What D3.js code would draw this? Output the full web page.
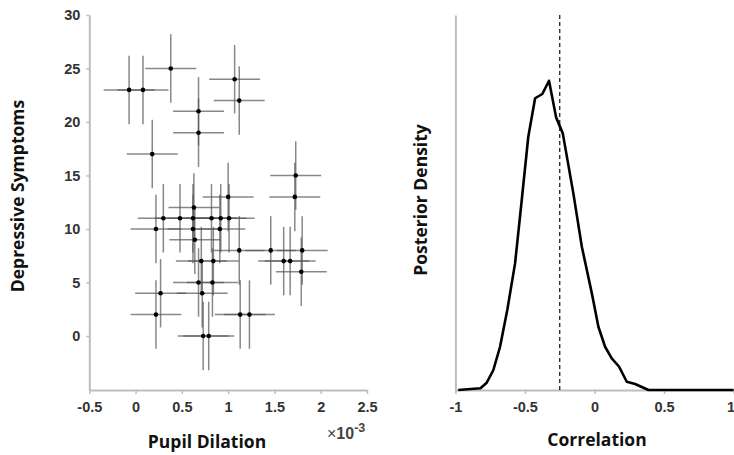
<!DOCTYPE html>
<html>
<head>
<meta charset="utf-8">
<script src="https://cdn.jsdelivr.net/npm/d3@7"></script>
<style>
  body { margin: 0; background: #fff; }
  svg { display: block; }
  .tick text { font-family: "Liberation Sans", Arial, sans-serif; font-weight: bold; font-size: 14.5px; fill: #333; }
  .ttl { font-family: "Open Sans", Lato, sans-serif; font-weight: bold; font-size: 17.5px; fill: #111; }
</style>
</head>
<body>
<div id="chart"></div>
<script>
// ---- data: left panel (pupil dilation x1e-3 vs depressive symptoms) ----
const pupil = [-0.07, 0.08, 0.38, 1.07, 1.12, 0.68, 0.68, 0.18, 1.73,
  1.00, 1.72, 0.63, 0.30, 0.48, 0.62, 0.82, 0.92, 1.01, 0.22, 0.62, 0.91,
  0.64, 1.12, 1.46, 1.80, 0.71, 0.84, 1.60, 1.67, 1.79, 0.68, 0.83, 0.27,
  0.72, 0.22, 1.13, 1.23, 0.73, 0.79];
const symptoms = [23, 23, 25, 24, 22, 21, 19, 17, 15,
  13, 13, 12, 11, 11, 11, 11, 11, 11, 10, 10, 10,
  9, 8, 8, 8, 7, 7, 7, 7, 6, 5, 5, 4,
  4, 2, 2, 2, 0, 0];
const pupilErr = 0.275;   // half-width of horizontal bars
const symptomErr = 3.2;   // half-height of vertical bars
const pupilTicks = [-0.5, 0, 0.5, 1, 1.5, 2, 2.5];
const symptomTicks = [0, 5, 10, 15, 20, 25, 30];

// ---- data: right panel (posterior of correlation) ----
const corr = [-0.98, -0.82, -0.775, -0.727, -0.679, -0.627, -0.571, -0.523, -0.476,
  -0.427, -0.375, -0.327, -0.276, -0.228, -0.152, -0.091, -0.019, 0.028, 0.076,
  0.124, 0.177, 0.232, 0.292, 0.388, 1.0];
const density = [0, 0.014, 0.058, 0.16, 0.346, 0.64, 1.013, 1.52, 2.026,
  2.334, 2.368, 2.474, 2.181, 2.053, 1.573, 1.146, 0.773, 0.506, 0.346,
  0.253, 0.186, 0.066, 0.048, 0, 0];
const corrMark = -0.25;
const corrTicks = [-1, -0.5, 0, 0.5, 1];

const width = 734, height = 455;
const svg = d3.select('#chart').append('svg')
  .attr('width', width).attr('height', height);

const axisColor = '#bdbdbd';
const plain = d => String(d);   // keep ascii hyphen like the original
function styleAxis(g) {
  g.selectAll('.domain').attr('stroke', axisColor).attr('stroke-width', 2);
  g.selectAll('.tick line').attr('stroke', axisColor).attr('stroke-width', 1.5);
}

//---------- left panel ----------
const x1 = d3.scaleLinear().domain([-0.5, 2.5]).range([89.3, 367]);
const y1 = d3.scaleLinear().domain([-5, 30]).range([389.5, 15]);

svg.append('g').attr('transform', 'translate(0,390)')
  .call(d3.axisBottom(x1).tickValues(pupilTicks).tickSize(4).tickSizeOuter(0).tickPadding(8)
    .tickFormat(plain))
  .call(styleAxis);
svg.append('g').attr('transform', 'translate(89.3,0)')
  .call(d3.axisLeft(y1).tickValues(symptomTicks).tickSize(3).tickSizeOuter(0).tickPadding(6)
    .tickFormat(plain))
  .call(styleAxis);

const pts = pupil.map((p, i) => ({ x: p, y: symptoms[i] }));
const bars = svg.append('g').attr('stroke', '#555').attr('stroke-opacity', 0.7).attr('stroke-width', 1.5);
bars.selectAll('line.h').data(pts).join('line').attr('class', 'h')
  .attr('x1', d => x1(d.x - pupilErr)).attr('x2', d => x1(d.x + pupilErr))
  .attr('y1', d => y1(d.y)).attr('y2', d => y1(d.y));
bars.selectAll('line.v').data(pts).join('line').attr('class', 'v')
  .attr('x1', d => x1(d.x)).attr('x2', d => x1(d.x))
  .attr('y1', d => y1(d.y - symptomErr)).attr('y2', d => y1(d.y + symptomErr));
svg.append('g').selectAll('circle').data(pts).join('circle')
  .attr('cx', d => x1(d.x)).attr('cy', d => y1(d.y)).attr('r', 2.3).attr('fill', '#000');

svg.append('text').attr('class', 'ttl').attr('x', 207).attr('y', 448)
  .attr('text-anchor', 'middle').text('Pupil Dilation');
svg.append('text').attr('class', 'ttl')
  .attr('transform', 'translate(24,196) rotate(-90)')
  .attr('text-anchor', 'middle').text('Depressive Symptoms');
const sci = svg.append('text').attr('x', 327).attr('y', 439)
  .attr('font-family', '"Liberation Sans", Arial, sans-serif').attr('font-size', 16)
  .attr('font-weight', 'bold').attr('fill', '#444');
sci.append('tspan').attr('font-weight', 'normal').text('\u00d7');
sci.append('tspan').text('10');
sci.append('tspan').attr('dy', -7).attr('font-size', 12.5).text('-3');

//---------- right panel ----------
const x2 = d3.scaleLinear().domain([-1, 1]).range([455.4, 733.6]);
const y2 = d3.scaleLinear().domain([0, 3]).range([390, 15]);

const corrAxis = svg.append('g').attr('transform', 'translate(0,390)')
  .call(d3.axisBottom(x2).tickValues(corrTicks).tickSize(4).tickSizeOuter(0).tickPadding(8)
    .tickFormat(plain))
  .call(styleAxis);
// last label sits on the page edge; pull it in so it stays readable
corrAxis.selectAll('.tick text').filter(d => d === 1).attr('text-anchor', 'end').attr('dx', 1);
svg.append('g').attr('transform', 'translate(455.4,0)')
  .call(d3.axisLeft(y2).tickValues([]).tickSizeOuter(0))
  .call(styleAxis);

svg.append('line')
  .attr('x1', x2(corrMark)).attr('x2', x2(corrMark))
  .attr('y1', y2(3)).attr('y2', y2(0))
  .attr('stroke', '#222').attr('stroke-width', 1.3).attr('stroke-dasharray', '4,3');

const line = d3.line().x(d => x2(d[0])).y(d => y2(d[1]));
svg.append('path').datum(corr.map((c, i) => [c, density[i]]))
  .attr('d', line).attr('fill', 'none').attr('stroke', '#000').attr('stroke-width', 2.6)
  .attr('stroke-linejoin', 'round');

svg.append('text').attr('class', 'ttl').attr('x', 597).attr('y', 446)
  .attr('text-anchor', 'middle').text('Correlation');
svg.append('text').attr('class', 'ttl')
  .attr('transform', 'translate(427,200) rotate(-90)')
  .attr('text-anchor', 'middle').text('Posterior Density');
</script>
</body>
</html>
